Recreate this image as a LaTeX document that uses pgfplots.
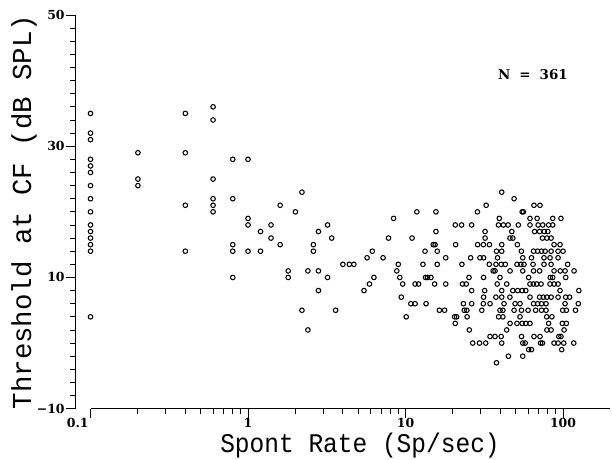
\documentclass[border=0pt]{standalone}
\usepackage{pgfplots}
\pgfplotsset{compat=1.18}
\usepackage{fontspec}
\setmainfont{Liberation Serif}
\newfontfamily\monofont{Liberation Mono}
\newfontfamily\tickfont{DejaVu Serif}

\pgfplotstableread{
x y
0.1 35
0.1 32
0.1 31
0.1 28
0.1 27
0.1 26
0.1 24
0.1 22
0.1 20
0.1 18
0.1 17
0.1 16
0.1 15
0.1 14
0.1 4
0.2 29
0.2 25
0.2 24
0.4 35
0.4 29
0.4 21
0.4 14
0.6 36
0.6 34
0.6 25
0.6 22
0.6 21
0.6 20
0.8 28
0.8 22
0.8 15
0.8 14
0.8 10
1.0 28
1.0 19
1.0 18
1.0 14
1.2 17
1.2 14
1.4 18
1.4 16
1.6 21
1.6 15
1.8 11
1.8 10
2.0 20
2.2 23
2.2 5
2.4 11
2.4 2
2.6 15
2.6 14
2.8 17
2.8 11
2.8 8
3.2 18
3.2 10
3.4 16
3.6 5
4.0 12
4.4 12
4.7 12
5.45 8
5.9 9
6.3 10
5.7 13
6.15 14
7.2 13
7.8 16
8.4 19
9.0 12
8.8 11
9.2 10
9.6 9
9.4 7
}\lowdata

\pgfplotstableread{
x y
11.8 20
15.6 20
20.7 18
22.7 18
15.6 17
11.0 16
15.0 15
15.4 15
20.8 15
13.3 14
15.9 14
18.0 13
12.9 12
15.9 12
22.8 12
13.4 10
13.8 10
14.5 10
11.5 9
12.1 9
15.3 9
18.0 9
23.0 9
24.3 9
10.8 6
11.5 6
13.5 6
23.3 6
16.4 5
17.7 5
23.6 5
10.1 4
20.5 4
21.1 4
24.6 4
20.7 3
25.4 2
}\middata

\pgfplotstableread{
x y
40.8 23
48.9 22
32.5 21
65.4 21
71.4 21
28.6 20
55 20
56 20
39.4 19
61.7 19
68.5 19
86 19
97 19
26.3 18
38.9 18
41.8 18
44.8 18
52 18
61.7 18
69.5 18
74.3 18
81 18
86 18
32 17
47.3 17
66 17
71 17
76 17
80 17
32 16
46 16
48 16
74 16
79 16
84 16
28.7 15
31.2 15
34.1 15
40.8 15
51.3 15
87.7 15
95.7 15
37.8 14
40.8 14
54.4 14
65 14
69 14
73 14
77 14
84 14
93 14
100 14
25.9 13
29.7 13
31.3 13
38.4 13
55.5 13
63 13
75.7 13
82.7 13
93 13
34 12
37.5 12
40.5 12
43 12
51 12
54 12
56.5 12
64.5 12
75.7 12
84 12
107 12
36 11
37 11
46.1 11
55.5 11
65 11
71 11
87.7 11
96 11
103 11
117.5 11
25.3 10
31.3 10
39.8 10
60.5 10
83 10
86 10
104 10
38.2 9
43.9 9
61.7 9
64.8 9
68 9
72.5 9
82.7 9
87.7 9
93 9
26.3 8
31.8 8
40.8 8
48 8
51.5 8
55 8
58 8
95.7 8
126 8
31.3 7
37.5 7
40.8 7
46 7
61.7 7
71 7
75 7
79 7
84 7
93 7
104 7
110 7
26.3 6
31.2 6
34.4 6
42.2 6
49.6 6
53.3 6
65 6
69 6
73 6
78 6
103 6
125 6
24.5 5
30.5 5
39.8 5
41.5 5
48.9 5
54.5 5
60 5
67 5
73 5
78 5
99.5 5
105 5
120 5
39 4
41.5 4
53.3 4
78.8 4
85 4
46.1 3
51 3
55 3
58 3
61.7 3
81 3
99 3
105 3
43.9 2
79 2
84 2
101.5 2
34.4 1
37 1
40.5 1
54.5 1
65.4 1
71.4 1
94 1
97 1
26.7 0
29.5 0
32.3 0
40.8 0
55.5 0
57.5 0
72 0
74 0
87.7 0
93 0
101 0
117 0
60.5 -1
63 -1
98 -1
45 -2
55.5 -2
37.8 -3
}\densedata

\begin{document}
\begin{tikzpicture}[x=1bp,y=1bp]
\begin{axis}[
  at={(75.24bp,51.3bp)}, anchor=south west,
  scale only axis, width=535.2bp, height=393.7bp,
  xmode=log, xmin=0.08, xmax=200, ymin=-10, ymax=50,
  axis lines=left,
  axis line style={-, line width=1.2pt},
  x axis line style={draw=none},
  tick align=outside,
  major tick length=9bp, minor tick length=5bp,
  every tick/.style={black, line width=0.9pt},
  xtick={0.1,1,10,100}, xticklabels={\llap{0.1\hspace{2bp}},1,10,100},
  minor xtick={0.2,0.3,0.4,0.5,0.6,0.7,0.8,0.9,2,3,4,5,6,7,8,9,20,30,40,50,60,70,80,90},
  ytick={-10,10,30,50}, yticklabels={−10,10,30,50},
  minor ytick={-8,-6,-4,-2,0,2,4,6,8,12,14,16,18,20,22,24,26,28,32,34,36,38,40,42,44,46,48},
  ticklabel style={font=\tickfont\bfseries\fontsize{12.5}{13}\selectfont},
  xticklabel style={inner sep=0pt},
  yticklabel style={inner sep=1.5bp},
  clip=false,
]
\draw[line width=1.2pt] (axis cs:0.1,-10) -- (axis cs:200,-10);
\addplot[only marks, mark=o, mark size=2.3pt, mark options={line width=1.05pt, black}] table {\lowdata};
\addplot[only marks, mark=o, mark size=2.3pt, mark options={line width=1.05pt, black}] table {\middata};
\addplot[only marks, mark=o, mark size=2.3pt, mark options={line width=1.05pt, black}] table {\densedata};
\end{axis}
\node[rotate=90, inner sep=0pt, font=\monofont\fontsize{27.5}{30}\selectfont] at (24,248) {Threshold at CF (dB SPL)};
\node[inner sep=0pt, font=\monofont\fontsize{24.6}{28}\selectfont] at (360,14) {\scalebox{1}[1.1]{Spont Rate (Sp/sec)}};
\node[font=\tickfont\bfseries\fontsize{13.5}{16}\selectfont] at (533,385) {N\hspace{9bp}=\hspace{9bp}361};
\pgfresetboundingbox
\path[use as bounding box] (0,0) rectangle (612,460);
\end{tikzpicture}
\end{document}
